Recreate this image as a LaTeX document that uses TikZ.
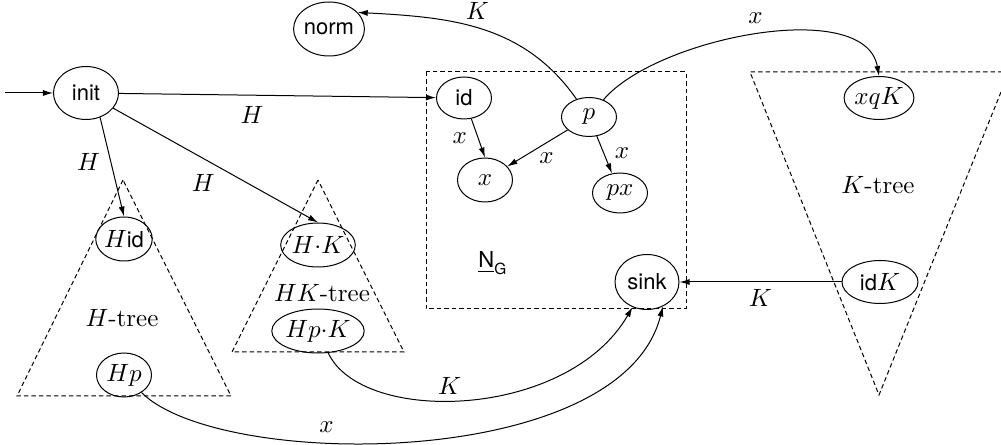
\documentclass[tikz,border=0pt]{standalone}
\usepackage{amsmath}
\usepackage{fontspec}
\setsansfont[Scale=0.88]{TeX Gyre Heros}
\usetikzlibrary{arrows.meta,shapes.geometric}
\begin{document}
\begin{tikzpicture}[x=0.4pt,y=-0.4pt,
  st/.style={ellipse,draw,inner sep=0pt},
  arr/.style={-{Latex[length=4pt,width=2.4pt]}},
  tri/.style={draw,dash pattern=on 1.8pt off 1.2pt}]
\useasboundingbox (0,0) rectangle (1001,445);

% dashed regions
\draw[tri] (123,180) -- (17,396) -- (231,396) -- cycle;
\draw[tri] (318,180) -- (232,352) -- (404,352) -- cycle;
\draw[tri] (1001,92) -- (879,395) -- (750,72) -- (1001,72);
\draw[tri] (426,72) rectangle (686,309);

% region labels
\node (Htree) at (122,318) {$H$-tree};
\node (HKtree) at (322,293) {$HK$-tree};
\node (Ktree) at (878,185) {$K$-tree};
\node (NG) at (493,263) {$\underline{\textsf{N}}_{\textsf{G}}$};

% states
\coordinate (start) at (5,93);
\node[st,minimum width=26pt,minimum height=21.2pt] (init) at (86,93) {\textsf{init}};
\node[st,minimum width=26pt,minimum height=21.6pt] (norm) at (329,29) {\textsf{norm}};
\node[st,minimum width=22pt,minimum height=16.8pt] (id) at (464,98) {\textsf{id}};
\node[st,minimum width=22pt,minimum height=15.6pt] (p) at (589,117) {$p$};
\node[st,minimum width=22pt,minimum height=17.6pt] (x) at (485,180) {$x$};
\node[st,minimum width=22pt,minimum height=16pt] (px) at (620,193) {$px$};
\node[st,minimum width=25.6pt,minimum height=22pt] (sink) at (647,282) {\textsf{sink}};
\node[st,minimum width=26pt,minimum height=17.2pt] (xqK) at (879,98) {$xqK$};
\node[st,minimum width=30.4pt,minimum height=17.2pt] (idK) at (880,282) {\textsf{id}$K$};
\node[st,minimum width=22pt,minimum height=17.6pt] (Hid) at (124,239) {$H$\textsf{id}};
\node[st,minimum width=22pt,minimum height=17.6pt] (Hp) at (124,375) {$Hp$};
\node[st,minimum width=26.4pt,minimum height=17.6pt] (HK) at (318,245) {$H{\cdot}K$};
\node[st,minimum width=34.8pt,minimum height=17.6pt] (HpK) at (318,331) {$Hp{\cdot}K$};

% transitions
\draw[arr] (start) -- (init);
\draw[arr] (init) -- node[pos=0.42,below=1pt] (lH1) {$H$} (id);
\draw[arr] (init.-60) -- node[pos=0.45,left=0.8pt] (lH2) {$H$} (Hid.north);
\draw[arr] (init) -- node[pos=0.44,below=2.9pt] (lH3) {$H$} (HK.north);
\draw[arr] (id) -- node[pos=0.5,left=1pt] (lx1) {$x$} (x.north);
\draw[arr] (p) -- node[pos=0.35,below=0.5pt] (lx2) {$x$} (x);
\draw[arr] (p) -- node[pos=0.45,right=1pt] (lx3) {$x$} (px);
\draw[arr] (p.125) to[out=125,in=-3,looseness=1] node[pos=0.52,above=0pt] (lK1) {$K$} (norm.30);
\draw[arr] (p.50) to[out=50,in=100,looseness=0.75] node[pos=0.5,above=1pt] (lx4) {$x$} (xqK.north);
\draw[arr] (idK) -- node[below=-0.5pt] (lK2) {$K$} (sink);
\draw[arr] (HpK.-65) to[out=-65,in=-120,out distance=32pt,in distance=52pt] node[pos=0.45,above=-1pt] (lK3) {$K$} (sink.-120);
\draw[arr] (Hp.-45) to[out=-45,in=-104,out distance=44pt,in distance=68pt] node[pos=0.37,above=0.5pt] (lx5) {$x$} (sink.-57);
\end{tikzpicture}
\end{document}
